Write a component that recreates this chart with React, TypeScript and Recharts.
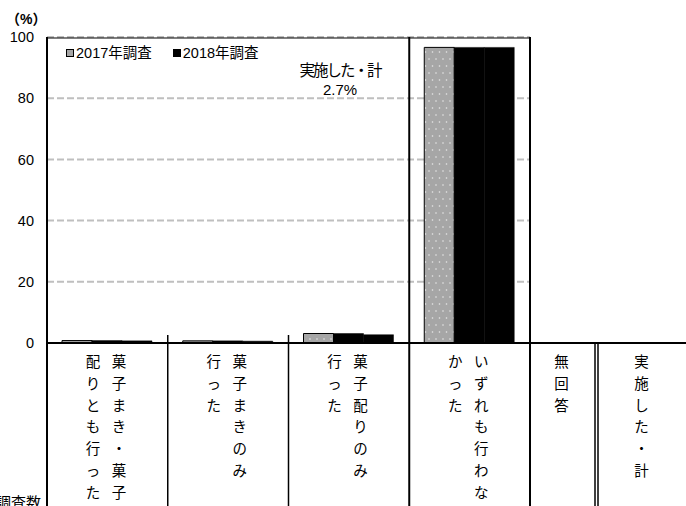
import { BarChart, Bar, XAxis, YAxis, CartesianGrid, Legend } from "recharts"

// categories shown inside the plot
const categories = ["菓子まき・菓子配りとも行った", "菓子まきのみ行った", "菓子配りのみ行った", "いずれも行わなかった"]
// vertical label columns (right column first, as in vertical writing)
const categoryColumns = [
    ["菓子まき・菓子", "配りとも行った"],
    ["菓子まきのみ", "行った"],
    ["菓子配りのみ", "行った"],
    ["いずれも行わな", "かった"],
]
// extra table columns with no bars
const extraColumns = ["無回答", "実施した・計"]

const values2017 = [0.8, 0.7, 3.1, 96.6]
const values2018 = [0.8, 0.7, 3.1, 96.6]
const values2018b = [0.7, 0.6, 2.7, 96.6]

const yTicks = [0, 20, 40, 60, 80, 100]
const totalLabel = "実施した・計"
const totalValue = "2.7%"

const data = categories.map((name, i) => ({
    name,
    y2017: values2017[i],
    y2018: values2018[i],
    y2018b: values2018b[i],
}))

const W = 686
const H = 506
const plotLeft = 47
const plotRight = 530
const plotTop = 37
const plotBottom = 343
const band = (plotRight - plotLeft) / categories.length
const font = "'Liberation Sans', 'Noto Sans CJK JP', sans-serif"
const rowStart = 362
const rowStep = 21.8

const VerticalText = ({ cols, cx }: { cols: string[]; cx: number }) => {
    const gap = 26
    const start = cx + ((cols.length - 1) * gap) / 2
    return (
        <g>
            {cols.map((col, c) =>
                Array.from(col).map((ch, r) => (
                    <text
                        key={c + "-" + r}
                        x={start - c * gap}
                        y={rowStart + r * rowStep}
                        textAnchor="middle"
                        dominantBaseline="central"
                        fontSize={14.5}
                        fontFamily={font}
                        fill="#000"
                    >
                        {ch}
                    </text>
                ))
            )}
        </g>
    )
}

const CategoryTick = (props: any) => {
    const { x, index } = props
    return <VerticalText cols={categoryColumns[index]} cx={x - 1.5} />
}

const LegendContent = (props: any) => {
    const items = (props.payload || []).filter((p: any) => p.type !== "none")
    return (
        <div style={{ display: "flex", gap: 21, fontFamily: font, fontSize: 14.5, color: "#000", lineHeight: "16px" }}>
            {items.map((p: any) => (
                <div key={p.value} style={{ display: "flex", alignItems: "center" }}>
                    <svg width={9} height={9} style={{ marginRight: 1 }}>
                        <rect x={0.5} y={0.5} width={7} height={7} fill={p.value.startsWith("2017") ? "#a6a6a6" : "#000"} stroke="#000" />
                    </svg>
                    <span>{p.value}</span>
                </div>
            ))}
        </div>
    )
}

const App = () => {
    const col5Left = plotRight
    const col6Left = 597
    return (
        <div style={{ position: "absolute", left: 0, top: 0, width: W, height: H, background: "#fff" }}>
            <BarChart
                width={W}
                height={H}
                data={data}
                margin={{ top: plotTop, right: W - plotRight, left: 0, bottom: 0 }}
                barGap={0}
                barSize={30}
            >
                <defs>
                    <pattern id="dots" patternUnits="userSpaceOnUse" width={7} height={14}>
                        <rect width={7} height={14} fill="#a6a6a6" />
                        <circle cx={2} cy={3} r={0.8} fill="#e8e8e8" />
                        <circle cx={5.5} cy={10} r={0.8} fill="#e8e8e8" />
                    </pattern>
                </defs>
                <CartesianGrid vertical={false} stroke="#bfbfbf" strokeWidth={2} strokeDasharray="7 3" />
                <XAxis
                    dataKey="name"
                    height={H - plotBottom}
                    axisLine={false}
                    tickLine={false}
                    interval={0}
                    tick={<CategoryTick />}
                />
                <YAxis
                    width={plotLeft}
                    domain={[0, 100]}
                    ticks={yTicks}
                    axisLine={false}
                    tickLine={false}
                    tickSize={0}
                    tickMargin={13}
                    tick={{ fontSize: 14.5, fill: "#000", fontFamily: font }}
                />
                <Legend
                    layout="horizontal"
                    verticalAlign="middle"
                    align="center"
                    content={<LegendContent />}
                    wrapperStyle={{ position: "absolute", top: 45, left: 66, width: "auto" }}
                />
                <Bar dataKey="y2017" name="2017年調査" fill="url(#dots)" stroke="#000" strokeWidth={1} isAnimationActive={false} />
                <Bar dataKey="y2018" name="2018年調査" fill="#000" stroke="#000" strokeWidth={0.5} isAnimationActive={false} />
                <Bar dataKey="y2018b" name="2018年調査b" fill="#000" stroke="#000" strokeWidth={0.5} legendType="none" isAnimationActive={false} />
            </BarChart>
            <svg width={W} height={H} style={{ position: "absolute", left: 0, top: 0, pointerEvents: "none" }}>
                <text x={6} y={24} fontSize={14} fontWeight="bold" fontFamily={font} fill="#000">（%）</text>
                <line x1={plotLeft} y1={plotTop + 1} x2={plotRight} y2={plotTop + 1} stroke="#000" strokeWidth={1} />
                <line x1={plotLeft} y1={plotTop} x2={plotLeft} y2={H} stroke="#000" strokeWidth={2} />
                <line x1={plotLeft} y1={plotBottom} x2={W} y2={plotBottom} stroke="#000" strokeWidth={2} />
                {[1, 2].map((i) => (
                    <line key={i} x1={plotLeft + band * i} y1={plotBottom - 8} x2={plotLeft + band * i} y2={H} stroke="#000" strokeWidth={1.5} />
                ))}
                <line x1={plotLeft + band * 3} y1={plotTop} x2={plotLeft + band * 3} y2={H} stroke="#000" strokeWidth={2} />
                <line x1={plotRight} y1={plotTop} x2={plotRight} y2={H} stroke="#000" strokeWidth={2} />
                <line x1={col6Left - 2} y1={plotBottom} x2={col6Left - 2} y2={H} stroke="#000" strokeWidth={1.5} />
                <line x1={col6Left + 1} y1={plotBottom} x2={col6Left + 1} y2={H} stroke="#000" strokeWidth={1.5} />
                <VerticalText cols={[extraColumns[0]]} cx={(col5Left + col6Left) / 2 - 2} />
                <VerticalText cols={[extraColumns[1]]} cx={(col6Left + W) / 2} />
                <text x={340} y={76} textAnchor="middle" fontSize={15.5} letterSpacing={-2} fontFamily={font} fill="#000">{totalLabel}</text>
                <text x={340} y={95} textAnchor="middle" fontSize={15} fontFamily={font} fill="#000">{totalValue}</text>
                <text x={-4} y={508} fontSize={15} fontFamily={font} fill="#000">調査数</text>
            </svg>
        </div>
    )
}

export default App
